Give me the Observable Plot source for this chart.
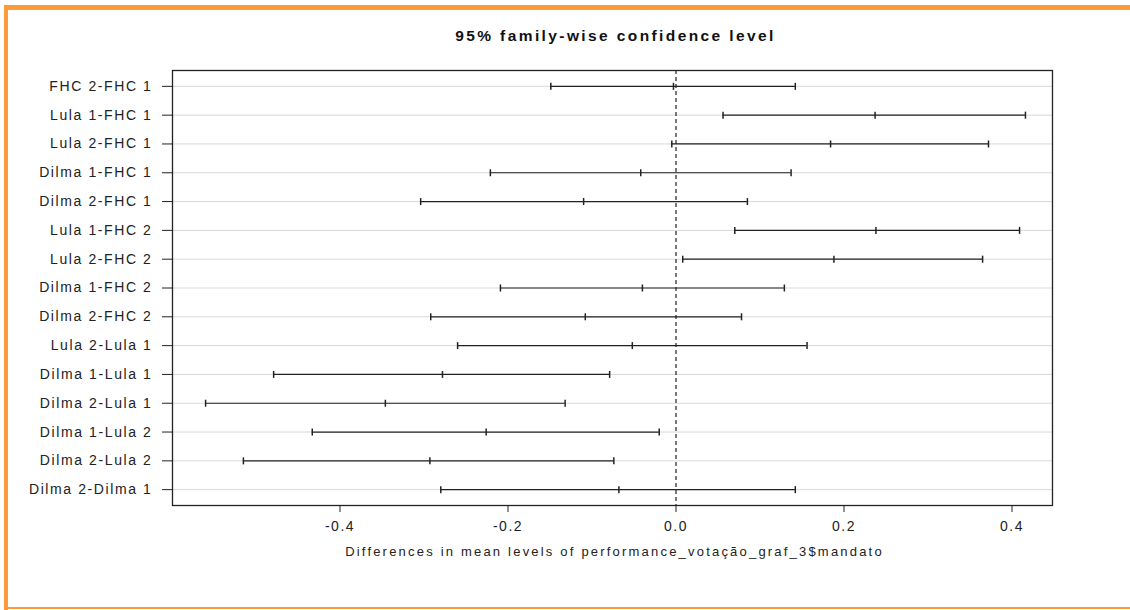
<!DOCTYPE html>
<html>
<head>
<meta charset="utf-8">
<script src="https://cdn.jsdelivr.net/npm/d3@7"></script>
<script src="https://cdn.jsdelivr.net/npm/@observablehq/plot@0.6"></script>
<style>
  html, body { margin: 0; padding: 0; background: #fff; }
  #page { position: relative; width: 1130px; height: 610px; overflow: hidden; background: #fff; font-family: "Liberation Sans", Arial, sans-serif; }
  .ob { position: absolute; background: #fd9a3a; }
  #title { position: absolute; left: 0; width: 1231px; top: 27px; text-align: center; font-weight: bold; font-size: 15.5px; letter-spacing: 2.4px; color: #111; }
  #chart { position: absolute; left: 0; top: 0; }
  #chart g[aria-label="y-axis tick label"] text { letter-spacing: 1.6px; }
  #chart g[aria-label="x-axis tick label"] text { letter-spacing: 1.5px; }
  #xlabel { position: absolute; left: 0; width: 1229px; top: 544px; text-align: center; font-size: 13px; letter-spacing: 2.2px; color: #222; }
</style>
</head>
<body>
<div id="page">
  <div class="ob" style="left:5px;top:5px;width:1125px;height:5px;"></div>
  <div class="ob" style="left:4px;top:5px;width:4px;height:605px;"></div>
  <div class="ob" style="left:4px;top:607px;width:1126px;height:2px;"></div>
  <div id="title">95% family-wise confidence level</div>
  <div id="chart"></div>
  <div id="xlabel">Differences in mean levels of performance_votação_graf_3$mandato</div>
</div>
<script>
const comparisons = ["FHC 2-FHC 1","Lula 1-FHC 1","Lula 2-FHC 1","Dilma 1-FHC 1","Dilma 2-FHC 1","Lula 1-FHC 2","Lula 2-FHC 2","Dilma 1-FHC 2","Dilma 2-FHC 2","Lula 2-Lula 1","Dilma 1-Lula 1","Dilma 2-Lula 1","Dilma 1-Lula 2","Dilma 2-Lula 2","Dilma 2-Dilma 1"];
const diff  = [-0.003, 0.237, 0.184, -0.042, -0.110, 0.238, 0.188, -0.040, -0.108, -0.052, -0.278, -0.346, -0.226, -0.293, -0.068];
const lower = [-0.149, 0.056, -0.005, -0.221, -0.304, 0.070, 0.008, -0.209, -0.292, -0.260, -0.479, -0.560, -0.433, -0.515, -0.280];
const upper = [0.142, 0.416, 0.372, 0.137, 0.085, 0.409, 0.365, 0.129, 0.078, 0.156, -0.079, -0.132, -0.020, -0.074, 0.142];
const xTicks = [-0.4, -0.2, 0.0, 0.2, 0.4];

const rows = comparisons.map((c, i) => ({c, diff: diff[i], lwr: lower[i], upr: upper[i]}));
const pts = rows.flatMap(r => [{c: r.c, x: r.lwr}, {c: r.c, x: r.diff}, {c: r.c, x: r.upr}]);

const vbar = { draw(ctx) { ctx.moveTo(0, -3.5); ctx.lineTo(0, 3.5); } };
const fmt = d => d.toFixed(1);

const chart = Plot.plot({
  width: 1130,
  height: 560,
  marginLeft: 172,
  marginRight: 78,
  marginTop: 70,
  marginBottom: 55,
  style: { fontFamily: "Liberation Sans, Arial, sans-serif", fontSize: "14px", color: "#222", background: "transparent" },
  x: { domain: [-0.5994, 0.4482], ticks: xTicks, tickFormat: fmt, label: null },
  y: { type: "point", domain: comparisons, padding: 0.55, round: false, label: null },
  marks: [
    Plot.ruleY(comparisons, { y: d => d, stroke: "#d9d9d9", strokeWidth: 1 }),
    Plot.ruleX([0], { stroke: "#333", strokeDasharray: "4,3", strokeWidth: 1.3 }),
    Plot.ruleY(rows, { y: "c", x1: "lwr", x2: "upr", stroke: "#222", strokeWidth: 1.2 }),
    Plot.dot(pts, { x: "x", y: "c", symbol: vbar, stroke: "#222", strokeWidth: 1.5, fill: "none" }),
    Plot.frame({ stroke: "#222", strokeWidth: 1.3 }),
    Plot.axisY({ tickSize: 10, tickPadding: 10, fontSize: 14 }),
    Plot.axisX({ ticks: xTicks, tickFormat: fmt, tickSize: 7, tickPadding: 9, fontSize: 14, label: null })
  ]
});
document.getElementById("chart").appendChild(chart);
</script>
</body>
</html>
